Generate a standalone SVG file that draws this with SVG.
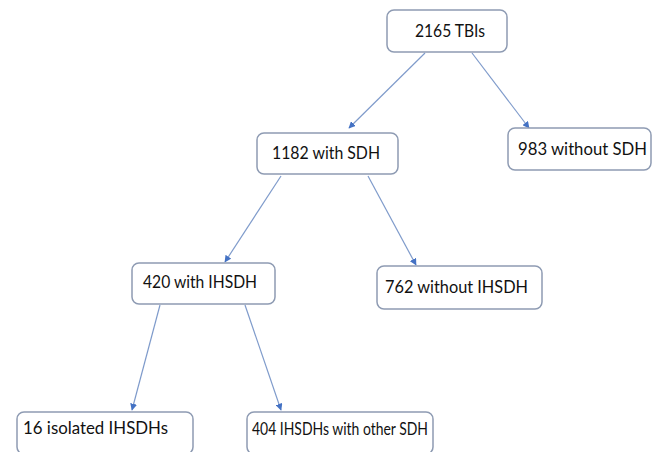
<svg xmlns="http://www.w3.org/2000/svg" width="652" height="452" viewBox="0 0 652 452">
<style>
.box{fill:#fff;stroke:#8e9bb3;stroke-width:1.5}
.t{font-family:Lato,"Open Sans",sans-serif;font-size:17px;fill:#111}
.c{stroke:#7f9bcb;stroke-width:1.2;fill:none;marker-end:url(#ah)}
</style>
<defs>
<marker id="ah" viewBox="0 0 10 10" refX="9" refY="5" markerWidth="7" markerHeight="7" markerUnits="userSpaceOnUse" orient="auto">
<path d="M0,0 L10,5 L0,10 z" fill="#4472c4"/>
</marker>
</defs>
<rect width="652" height="452" fill="#fff"/>
<g id="connectors">
<line class="c" x1="425" y1="53" x2="349" y2="128"/>
<line class="c" x1="472" y1="53" x2="529" y2="128"/>
<line class="c" x1="281" y1="176" x2="225" y2="262"/>
<line class="c" x1="368" y1="176" x2="416" y2="265"/>
<line class="c" x1="160" y1="305" x2="132" y2="410"/>
<line class="c" x1="245" y1="305" x2="281" y2="410"/>
</g>
<g id="n1"><rect class="box" x="387" y="10" width="120" height="42" rx="7"/><text class="t" x="415" y="37" textLength="70" lengthAdjust="spacingAndGlyphs">2165 TBIs</text></g>
<g id="n2"><rect class="box" x="257" y="133" width="141" height="41" rx="7"/><text class="t" x="272" y="159" textLength="108" lengthAdjust="spacingAndGlyphs">1182 with SDH</text></g>
<g id="n3"><rect class="box" x="508" y="128" width="143" height="42" rx="7"/><text class="t" x="518" y="155" textLength="129" lengthAdjust="spacingAndGlyphs">983 without SDH</text></g>
<g id="n4"><rect class="box" x="132" y="263" width="143" height="41" rx="7"/><text class="t" x="143" y="288" textLength="114" lengthAdjust="spacingAndGlyphs">420 with IHSDH</text></g>
<g id="n5"><rect class="box" x="377" y="266" width="165" height="43" rx="7"/><text class="t" x="385" y="293" textLength="143" lengthAdjust="spacingAndGlyphs">762 without IHSDH</text></g>
<g id="n6"><rect class="box" x="17" y="412" width="176" height="42" rx="7"/><text class="t" x="23" y="434" textLength="145" lengthAdjust="spacingAndGlyphs">16 isolated IHSDHs</text></g>
<g id="n7"><rect class="box" x="247" y="412" width="186" height="42" rx="7"/><text class="t" x="252" y="435" textLength="176" lengthAdjust="spacingAndGlyphs">404 IHSDHs with other SDH</text></g>
</svg>
